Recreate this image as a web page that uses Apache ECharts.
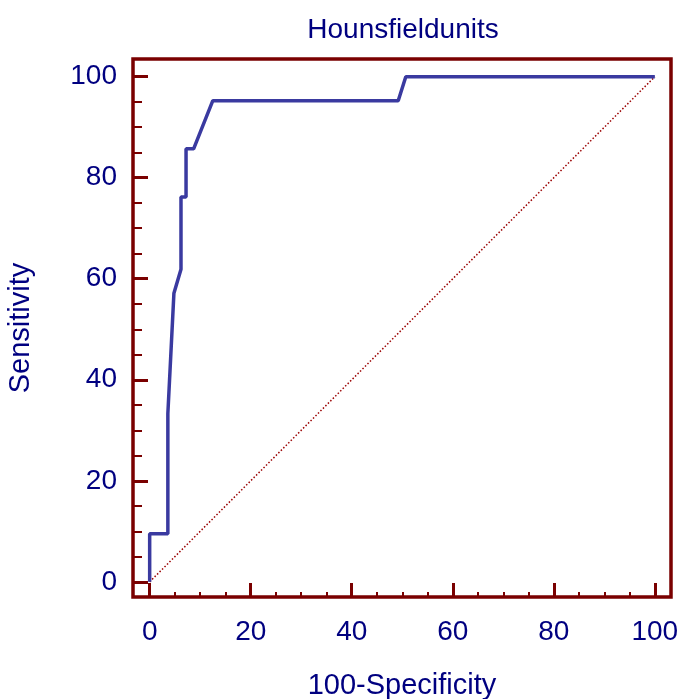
<!DOCTYPE html>
<html>
<head>
<meta charset="utf-8">
<script src="https://cdn.jsdelivr.net/npm/echarts@6/dist/echarts.min.js"></script>
<style>html,body{margin:0;padding:0;background:#fff;}#c{width:683px;height:699px;}</style>
</head>
<body>
<div id="c"></div>
<script>
// ROC curve
var fpr = [0, 0, 3.6, 3.6, 4.8, 6.2, 6.2, 7.2, 7.2, 8.7, 12.5, 49.2, 50.7, 100];
var tpr = [0, 9.52, 9.52, 33.33, 57.14, 61.9, 76.19, 76.19, 85.71, 85.71, 95.24, 95.24, 100, 100];
var refX = [0, 100];
var refY = [0, 100];
var majorTicks = [0, 20, 40, 60, 80, 100];
var minorTicks = [5, 10, 15, 25, 30, 35, 45, 50, 55, 65, 70, 75, 85, 90, 95];
var titleText = 'Hounsfieldunits';
var xName = '100-Specificity';
var yName = 'Sensitivity';

var navy = '#000080';
var maroon = '#7a0000';
var font = 'Liberation Sans';
var xMin = -3.3, xMax = 103.2, yMin = -3.0, yMax = 103.5;

function zip(a, b) { return a.map(function (v, i) { return [v, b[i]]; }); }

var chart = echarts.init(document.getElementById('c'), null, {renderer: 'canvas'});
chart.setOption({
  animation: false,
  backgroundColor: '#ffffff',
  title: {
    text: titleText, left: 398, top: 11, textAlign: 'center',
    textStyle: {color: navy, fontFamily: font, fontSize: 28, fontWeight: 'normal'}
  },
  grid: {left: 133, top: 59, width: 538, height: 538, show: true,
    outerBoundsMode: 'none', containLabel: false,
    borderColor: maroon, borderWidth: 3.5, backgroundColor: 'transparent'},
  xAxis: [{
    type: 'value', min: xMin, max: xMax, position: 'bottom',
    name: xName, nameLocation: 'middle', nameGap: 74,
    nameTextStyle: {color: navy, fontFamily: font, fontSize: 29},
    axisLine: {show: false, onZero: false},
    splitLine: {show: false},
    axisTick: {show: true, inside: true, length: 14, customValues: majorTicks,
      lineStyle: {color: maroon, width: 3}},
    axisLabel: {show: true, customValues: majorTicks, margin: 21,
      color: navy, fontFamily: font, fontSize: 28}
  }, {
    type: 'value', min: xMin, max: xMax, position: 'bottom',
    axisLine: {show: false, onZero: false}, splitLine: {show: false}, axisLabel: {show: false},
    axisTick: {show: true, inside: true, length: 5, customValues: minorTicks,
      lineStyle: {color: maroon, width: 2}}
  }],
  yAxis: [{
    type: 'value', min: yMin, max: yMax, position: 'left',
    name: yName, nameLocation: 'middle', nameGap: 98, nameRotate: 90,
    nameTextStyle: {color: navy, fontFamily: font, fontSize: 29},
    axisLine: {show: false, onZero: false},
    splitLine: {show: false},
    axisTick: {show: true, inside: true, length: 15, customValues: majorTicks,
      lineStyle: {color: maroon, width: 3}},
    axisLabel: {show: true, customValues: majorTicks, margin: 16,
      color: navy, fontFamily: font, fontSize: 28}
  }, {
    type: 'value', min: yMin, max: yMax, position: 'left',
    axisLine: {show: false, onZero: false}, splitLine: {show: false}, axisLabel: {show: false},
    axisTick: {show: true, inside: true, length: 9, customValues: minorTicks,
      lineStyle: {color: maroon, width: 2}}
  }],
  series: [{
    type: 'line', xAxisIndex: 0, yAxisIndex: 0,
    data: zip(refX, refY), symbol: 'none', silent: true,
    lineStyle: {color: '#9a0000', width: 1.5, type: [1.5, 2]}
  }, {
    type: 'line', xAxisIndex: 0, yAxisIndex: 0,
    data: zip(fpr, tpr), symbol: 'none', silent: true,
    lineStyle: {color: '#3a3aa0', width: 3.5}
  }]
});
</script>
</body>
</html>
